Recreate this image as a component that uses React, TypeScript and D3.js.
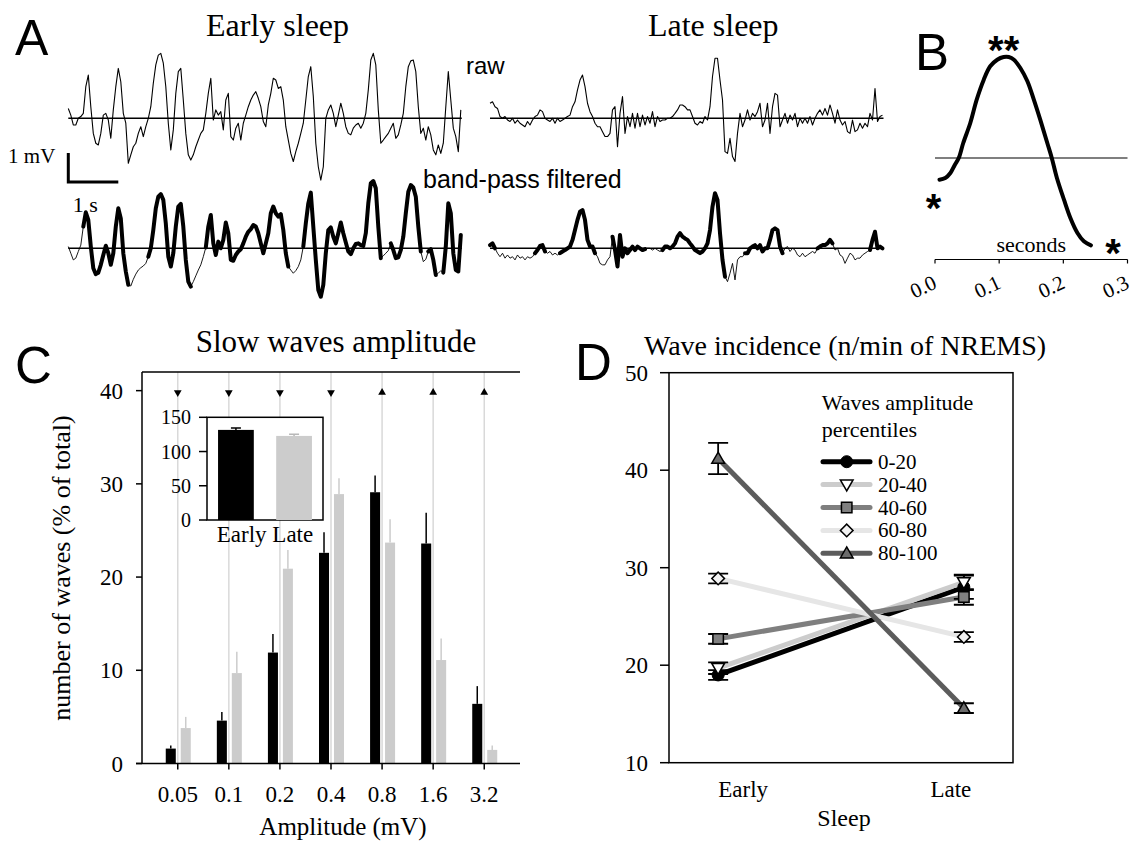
import React from 'react'
import * as d3 from 'd3'

const SERIF = '"Liberation Serif", "Times New Roman", serif'
const SANS = '"Liberation Sans", Arial, sans-serif'

// ---- Panel A: example EEG traces, one sample every 50 ms, values in mV
const SAMPLE_S = 0.05

const earlyRaw = [
  0.34, 0.11, -0.23, -0.23, 0.0, 0.06, 0.17, 1.09, 1.49, 0.4,
  -0.52, -0.86, -0.92, -0.52, 0.11, 0.17, -0.06, -0.69, 0.29, 1.09,
  1.72, 1.26, 0.17, -0.17, -1.55, -1.26, -0.98, -0.86, -0.52, -0.29,
  -0.63, -0.29, 0.0, 0.4, 1.21, 1.84, 2.18, 2.24, 1.9, 1.09,
  -0.17, -1.09, -0.4, 0.86, 1.61, 1.72, 0.63, -0.52, -1.26, -1.44,
  -1.26, -0.98, -0.75, -0.52, -0.4, 0.17, 0.86, 1.38, -0.06, 0.29,
  0.11, 0.23, -0.4, 0.63, 0.86, -0.63, -0.75, -0.34, -0.17, -0.75,
  -0.17, 0.11, 0.4, 0.63, 0.8, 0.92, 0.69, 0.4, -0.11, -0.29,
  0.46, 0.86, 1.38, 1.32, 1.03, 1.09, 0.63, -0.29, -0.75, -1.21,
  -1.49, -1.15, -0.86, -0.52, -0.17, 0.63, 1.44, 1.78, 0.75, -0.86,
  -1.67, -2.13, -1.67, 0.0, 0.29, 0.46, 0.17, -0.29, 0.11, 0.52,
  0.17, -0.29, -0.52, -0.57, -0.34, -0.23, -0.17, -0.34, -0.17, 0.17,
  0.98, 2.01, 2.24, 1.84, 0.29, -0.86, -0.75, -0.63, -0.52, -0.34,
  -0.17, -0.69, -0.57, -0.23, 0.17, 1.09, 1.78, 1.98, 2.01, 1.61,
  0.4, -0.52, -0.34, -0.75, -0.29, -0.57, -1.09, -1.26, -0.92, -1.21,
  -0.86, 0.4, 1.61, 0.63, -0.34, -0.63, -1.15, 0.29,
]

const earlyFiltered = [
  0.06, -0.17, -0.4, -0.34, -0.11, 0.11, 0.75, 1.24, 0.98, 0.06,
  -0.69, -0.89, -0.84, -0.57, -0.23, 0.09, -0.17, -0.57, -0.17, 0.75,
  1.38, 1.03, -0.17, -0.8, -1.26, -1.3, -1.07, -0.89, -0.75, -0.67,
  -0.61, -0.52, -0.29, 0.0, 0.63, 1.38, 1.78, 1.87, 1.67, 0.86,
  -0.29, -0.63, -0.17, 0.75, 1.44, 1.53, 0.75, -0.4, -1.15, -1.32,
  -1.15, -0.95, -0.75, -0.57, -0.29, 0.03, 0.75, 1.15, 0.17, -0.23,
  0.23, 0.0, 0.29, 0.89, 0.52, -0.4, -0.43, -0.23, -0.11, -0.03,
  0.17, 0.4, 0.57, 0.66, 0.8, 0.75, 0.52, 0.17, -0.17, 0.17,
  0.52, 1.21, 1.44, 1.21, 1.09, 1.18, 0.63, -0.17, -0.63, -0.75,
  -0.86, -0.77, -0.63, -0.4, 0.06, 0.86, 1.55, 1.92, 0.75, -0.4,
  -1.44, -1.67, -1.26, -0.17, 0.63, 0.72, 0.4, 0.17, 0.52, 0.89,
  0.52, 0.2, -0.11, -0.2, 0.0, 0.15, 0.17, 0.11, 0.08, 0.52,
  1.55, 2.24, 2.32, 2.07, 0.75, -0.34, -0.26, -0.17, -0.08, 0.17,
  -0.06, -0.34, -0.31, -0.06, 0.4, 1.21, 1.95, 2.18, 2.1, 1.78,
  0.75, -0.11, -0.46, -0.38, -0.11, -0.03, -0.4, -0.92, -0.86, -0.77,
  -0.84, 0.06, 1.55, 1.21, -0.17, -0.75, -0.8, 0.46,
]

const lateRaw = [
  0.52, 0.57, 0.4, 0.34, 0.06, 0.0, 0.06, -0.06, -0.11, 0.0,
  -0.17, -0.06, -0.17, -0.23, -0.29, -0.11, -0.23, -0.06, 0.06, 0.11,
  0.29, 0.23, 0.0, -0.06, -0.11, 0.0, -0.17, 0.0, -0.11, -0.06,
  0.0, 0.06, 0.11, 0.4, 0.57, 0.98, 1.32, 1.49, 1.09, 0.52,
  0.23, 0.06, -0.17, -0.29, -0.29, -0.46, -0.63, -0.63, -0.52, 0.29,
  0.4, -0.98, 0.17, 0.75, -0.52, 0.06, -0.29, 0.17, -0.34, 0.17,
  -0.29, 0.11, -0.23, 0.06, -0.17, 0.23, -0.29, 0.06, -0.11, -0.06,
  -0.06, 0.0, 0.0, 0.06, 0.17, 0.29, 0.46, 0.46, 0.4, 0.29,
  0.29, 0.06, -0.17, -0.23, -0.11, -0.17, 0.06, -0.06, 0.4, 1.44,
  2.07, 2.07, 1.32, 0.63, -1.15, -1.21, -0.69, -1.32, -1.49, -0.52,
  0.17, -0.29, -0.06, 0.29, -0.06, 0.17, 0.06, 0.23, 0.52, -0.29,
  -0.06, 0.52, -0.52, 0.4, 0.86, 0.8, -0.29, -0.06, 0.17, -0.17,
  0.11, -0.06, 0.17, -0.29, 0.0, -0.17, 0.0, -0.17, 0.06, -0.23,
  0.0, 0.17, 0.29, 0.11, 0.34, 0.11, 0.46, 0.17, -0.17, 0.29,
  -0.06, -0.23, -0.11, -0.46, -0.52, -0.06, -0.46, -0.4, -0.17, -0.34,
  -0.17, -0.29, 0.17, -0.06, 1.03, -0.11, 0.06, 0.11,
]

const lateFiltered = [
  0.11, 0.17, 0.0, -0.17, -0.29, -0.17, -0.34, -0.23, -0.34, -0.29,
  -0.4, -0.23, -0.34, -0.29, -0.4, -0.29, -0.34, -0.29, -0.17, -0.06,
  0.08, 0.11, -0.11, -0.17, -0.11, -0.23, -0.17, -0.23, -0.17, -0.11,
  -0.06, 0.0, 0.06, 0.29, 0.63, 0.98, 1.26, 1.32, 0.98, 0.29,
  0.06, 0.06, -0.17, -0.29, -0.52, -0.57, -0.57, -0.4, -0.29, 0.4,
  -0.06, -0.63, 0.46, -0.29, 0.0, -0.17, -0.06, 0.06, -0.06, 0.06,
  0.0, -0.06, -0.03, 0.0, 0.0, -0.06, 0.0, -0.06, -0.11, -0.06,
  0.06, 0.06, 0.0, 0.06, 0.17, 0.4, 0.52, 0.4, 0.34, 0.29,
  0.17, 0.06, -0.06, -0.11, -0.17, -0.11, 0.0, 0.17, 0.63, 1.44,
  1.9, 1.67, 0.52, -0.4, -0.98, -1.15, -0.86, -0.52, -1.09, -0.4,
  -0.29, -0.29, -0.17, -0.17, 0.0, 0.06, 0.11, 0.0, 0.11, -0.11,
  0.0, 0.0, 0.29, 0.63, 0.69, 0.63, 0.06, -0.17, 0.0, 0.06,
  -0.11, 0.0, -0.06, -0.23, -0.29, -0.17, -0.29, -0.23, -0.17, -0.11,
  -0.17, 0.0, 0.06, 0.11, 0.11, 0.17, 0.29, 0.17, -0.06, 0.0,
  -0.23, -0.29, -0.52, -0.34, -0.17, -0.23, -0.4, -0.34, -0.34, -0.23,
  -0.17, -0.11, -0.06, 0.29, 0.57, 0.0, 0.06, 0.0,
]

// stretches (s) where the filtered signal is drawn thick (detected waves)
const earlyThick: [number, number][] = [
  [0.27, 1.23], [1.57, 2.49], [2.71, 4.42], [4.67, 6.29], [6.42, 7.07], [7.17, 7.38], [7.47, 7.9],
]
const lateThick: [number, number][] = [
  [0, 0.13], [0.87, 1.1], [1.4, 2.13], [2.43, 3.13], [3.43, 4.7], [5.07, 5.87], [6.53, 6.87], [7.6, 7.9],
]

// ---- Panel B: average slow wave
const waveTime = [
  0.007, 0.016, 0.024, 0.031, 0.037, 0.044, 0.055, 0.065, 0.076, 0.086, 0.097, 0.107, 0.115,
  0.123, 0.133, 0.144, 0.154, 0.164, 0.175, 0.182, 0.19, 0.201, 0.211, 0.222, 0.232, 0.243,
]
const waveAmp = [
  -21.7, -20, -15, -6.7, 0, 15, 35, 58.3, 78.3, 91.7, 98.3, 101, 101,
  98.3, 90, 76.7, 58.3, 38.3, 15, 0, -20, -41.7, -60, -75, -83.3, -87.3,
]
const waveTicks = [0, 0.1, 0.2, 0.3]

// ---- Panel C: amplitude distribution
const ampCats = ['0.05', '0.1', '0.2', '0.4', '0.8', '1.6', '3.2']
const earlyPct = [1.6, 4.6, 11.9, 22.6, 29.1, 23.6, 6.4]
const earlyPctErr = [0.33, 0.93, 2.0, 2.2, 1.8, 3.3, 1.9]
const latePct = [3.8, 9.7, 20.9, 28.9, 23.7, 11.1, 1.46]
const latePctErr = [1.2, 2.3, 2.0, 1.7, 2.5, 2.3, 0.47]
const changeDir = ['down', 'down', 'down', 'down', 'up', 'up', 'up']
const changeLevel = 39.8
const pctTicks = [0, 10, 20, 30, 40]

const insetCats = ['Early', 'Late']
const insetVals = [131.6, 122.8]
const insetErr = [2.9, 2.5]
const insetTicks = [0, 50, 100, 150]

// ---- Panel D: wave incidence
const sleepCats = ['Early', 'Late']
const pctiles = ['0-20', '20-40', '40-60', '60-80', '80-100']
const incEarly = [19.0, 19.7, 22.7, 28.9, 41.2]
const incLate = [28.0, 28.5, 27.0, 22.9, 15.6]
const incEarlyErr = [0.5, 0.6, 0.5, 0.5, 1.6]
const incLateErr = [1.2, 0.8, 0.8, 0.5, 0.5]
const incTicks = [10, 20, 30, 40, 50]

const lineColors = ['#000000', '#cccccc', '#7f7f7f', '#e6e6e6', '#5c5c5c']
const markerFill = ['#000000', '#ffffff', '#808080', '#f2f2f2', '#6b6b6b']

type Pt = { t: number; v: number }

function PanelA() {
  const tEnd = (earlyRaw.length - 1) * SAMPLE_S
  const xEarly = d3.scaleLinear().domain([0, tEnd]).range([68.3, 460.8])
  const xLate = d3.scaleLinear().domain([0, tEnd]).range([490, 882.5])
  const yRaw = d3.scaleLinear().domain([-1, 1]).range([147.3, 89.3])
  const yFilt = d3.scaleLinear().domain([-1, 1]).range([277.3, 219.3])

  const toPts = (vals: number[]): Pt[] => vals.map((v, i) => ({ t: i * SAMPLE_S, v }))

  const trace = (
    vals: number[],
    x: d3.ScaleLinear<number, number>,
    y: d3.ScaleLinear<number, number>,
    thick: [number, number][] | null,
    key: string
  ) => {
    const pts = toPts(vals)
    const line = d3.line<Pt>().x(d => x(d.t)).y(d => y(d.v))
    return (
      <g key={key}>
        <line x1={x(0)} x2={x(tEnd) + 1} y1={y(0)} y2={y(0)} stroke="#000" strokeWidth={1.4} />
        <path d={line(pts) || ''} fill="none" stroke="#000" strokeWidth={thick ? 0.9 : 1.1} strokeLinejoin="round" />
        {thick && thick.map(([a, b], k) => (
          <path
            key={k}
            d={line(pts.filter(p => p.t >= a - 1e-6 && p.t <= b + 1e-6)) || ''}
            fill="none"
            stroke="#000"
            strokeWidth={4}
            strokeLinejoin="round"
            strokeLinecap="round"
          />
        ))}
      </g>
    )
  }

  // scale bar: 1 mV by 1 s
  const barBottom = -2.2
  return (
    <g>
      <text x={15} y={55} fontFamily={SANS} fontSize={50}>A</text>
      <text x={(xEarly(0) + xEarly(tEnd)) / 2 + 13} y={36} fontSize={32} textAnchor="middle">Early sleep</text>
      <text x={(xLate(0) + xLate(tEnd)) / 2 + 27} y={36} fontSize={32} textAnchor="middle">Late sleep</text>
      <text x={466} y={74} fontFamily={SANS} fontSize={24}>raw</text>
      <text x={423} y={188} fontFamily={SANS} fontSize={25}>band-pass filtered</text>

      {trace(earlyRaw, xEarly, yRaw, null, 'er')}
      {trace(lateRaw, xLate, yRaw, null, 'lr')}
      {trace(earlyFiltered, xEarly, yFilt, earlyThick, 'ef')}
      {trace(lateFiltered, xLate, yFilt, lateThick, 'lf')}

      <path
        d={`M${xEarly(0)},${yRaw(barBottom + 1)}V${yRaw(barBottom)}H${xEarly(1)}`}
        fill="none"
        stroke="#000"
        strokeWidth={3}
      />
      <text x={xEarly(0) - 13} y={163} fontSize={21} textAnchor="end">1 mV</text>
      <text x={xEarly(0) + 4.5} y={211.5} fontSize={22}>1 s</text>
    </g>
  )
}

function PanelB() {
  const x = d3.scaleLinear().domain([0, 0.3]).range([935, 1127.5])
  const y = d3.scaleLinear().domain([-100, 100]).range([258, 58])
  const pts = waveTime.map((t, i) => ({ t, v: waveAmp[i] }))
  const line = d3.line<Pt>().x(d => x(d.t)).y(d => y(d.v)).curve(d3.curveCatmullRom)
  const axisY = 259.5
  const first = pts[0]
  const last = pts[pts.length - 1]
  const peak = pts[d3.maxIndex(pts, d => d.v)]
  return (
    <g>
      <text x={915} y={70} fontFamily={SANS} fontSize={51}>B</text>
      <line x1={x(0)} x2={x(0.3)} y1={y(0)} y2={y(0)} stroke="#000" strokeWidth={1.2} />
      <path d={line(pts) || ''} fill="none" stroke="#000" strokeWidth={4} strokeLinecap="round" />
      <line x1={x(0)} x2={x(0.3)} y1={axisY} y2={axisY} stroke="#000" strokeWidth={1.2} />
      {waveTicks.map(t => (
        <g key={t}>
          <line x1={x(t)} x2={x(t)} y1={axisY} y2={axisY + 4} stroke="#000" strokeWidth={1.2} />
          <text
            transform={`translate(${x(t) - 12},${axisY + 27}) rotate(-25)`}
            fontSize={21}
            textAnchor="middle"
            dy="0.35em"
          >
            {d3.format('.1f')(t)}
          </text>
        </g>
      ))}
      <text x={x(0.15)} y={252} fontSize={22} textAnchor="middle">seconds</text>
      <text x={x(first.t) - 6} y={y(first.v) + 42} fontFamily={SANS} fontSize={40} fontWeight="bold" textAnchor="middle">*</text>
      <text x={x(peak.t)} y={y(peak.v) + 7} fontFamily={SANS} fontSize={40} fontWeight="bold" textAnchor="middle">**</text>
      <text x={x(last.t) + 22} y={y(last.v) + 22} fontFamily={SANS} fontSize={40} fontWeight="bold" textAnchor="middle">*</text>
    </g>
  )
}

function PanelC() {
  const x = d3.scalePoint<string>().domain(ampCats).range([142, 520]).padding(0.7)
  const inner = d3.scaleBand<string>().domain(['early', 'late']).range([-12, 13]).paddingInner(0.33)
  const y = d3.scaleLinear().domain([0, 42]).range([763.5, 372])
  const bw = inner.bandwidth()
  const tri = d3.symbol().type(d3.symbolTriangle).size(26)

  const xi = d3.scaleBand<string>().domain(insetCats).range([207, 323]).paddingInner(0.385).paddingOuter(0.19)
  const yi = d3.scaleLinear().domain([0, 150]).range([520, 417.3])
  const insetColors = ['#000', '#cccccc']
  const insetErrColors = ['#000', '#b8b8b8']

  return (
    <g>
      <text x={15} y={383} fontFamily={SANS} fontSize={51}>C</text>
      <text x={336} y={352} fontSize={31} textAnchor="middle">Slow waves amplitude</text>

      {/* grid */}
      {ampCats.map(c => (
        <line key={c} x1={x(c)} x2={x(c)} y1={y(42)} y2={y(0)} stroke="#d9d9d9" strokeWidth={1.5} />
      ))}

      {/* bars */}
      {ampCats.map((c, i) => {
        const cx = x(c)!
        const xe = cx + inner('early')!
        const xl = cx + inner('late')!
        return (
          <g key={c}>
            <line x1={xe + bw / 2} x2={xe + bw / 2} y1={y(earlyPct[i])} y2={y(earlyPct[i] + earlyPctErr[i])} stroke="#000" strokeWidth={1.5} />
            <rect x={xe} y={y(earlyPct[i])} width={bw} height={y(0) - y(earlyPct[i])} fill="#000" />
            <line x1={xl + bw / 2} x2={xl + bw / 2} y1={y(latePct[i])} y2={y(latePct[i] + latePctErr[i])} stroke="#cccccc" strokeWidth={1.5} />
            <rect x={xl} y={y(latePct[i])} width={bw} height={y(0) - y(latePct[i])} fill="#cccccc" />
            <path
              d={tri() || ''}
              transform={`translate(${cx},${y(changeLevel)}) rotate(${changeDir[i] === 'down' ? 180 : 0})`}
              fill="#000"
            />
          </g>
        )
      })}

      {/* axes */}
      <line x1={142} x2={520} y1={y(42)} y2={y(42)} stroke="#000" strokeWidth={1.5} />
      <line x1={142} x2={142} y1={y(42)} y2={y(0)} stroke="#000" strokeWidth={1.5} />
      <line x1={136} x2={520} y1={y(0)} y2={y(0)} stroke="#000" strokeWidth={1.5} />
      {pctTicks.map(t => (
        <g key={t}>
          <line x1={136} x2={142} y1={y(t)} y2={y(t)} stroke="#000" strokeWidth={1.5} />
          <text x={123} y={y(t) + 8} fontSize={23} textAnchor="end">{t}</text>
        </g>
      ))}
      {ampCats.map(c => (
        <g key={c}>
          <line x1={x(c)} x2={x(c)} y1={y(0)} y2={y(0) + 6} stroke="#000" strokeWidth={1.5} />
          <text x={x(c)} y={802} fontSize={23} textAnchor="middle">{c}</text>
        </g>
      ))}
      <text x={343} y={835} fontSize={25} textAnchor="middle">Amplitude (mV)</text>
      <text transform="translate(70,568) rotate(-90)" fontSize={26} textAnchor="middle">number of waves (% of total)</text>

      {/* inset */}
      <rect x={207} y={yi(150)} width={116} height={yi(0) - yi(150)} fill="#fff" stroke="#000" strokeWidth={1.5} />
      {insetCats.map((c, i) => {
        const bx = xi(c)!
        const w = xi.bandwidth()
        const cx = bx + w / 2
        return (
          <g key={c}>
            <rect x={bx} y={yi(insetVals[i])} width={w} height={yi(0) - yi(insetVals[i])} fill={insetColors[i]} />
            <path
              d={`M${cx},${yi(insetVals[i])}V${yi(insetVals[i] + insetErr[i])}M${cx - 5},${yi(insetVals[i] + insetErr[i])}H${cx + 5}`}
              stroke={insetErrColors[i]}
              strokeWidth={1.5}
            />
          </g>
        )
      })}
      {insetTicks.map(t => (
        <g key={t}>
          <line x1={199} x2={207} y1={yi(t)} y2={yi(t)} stroke="#000" strokeWidth={1.5} />
          <text x={191} y={yi(t) + 7} fontSize={20} textAnchor="end">{t}</text>
        </g>
      ))}
      <text
        x={(xi('Early')! + xi('Late')! + xi.bandwidth()) / 2}
        y={541.5}
        fontSize={23}
        textAnchor="middle"
      >
        {insetCats.join(' ')}
      </text>
    </g>
  )
}

function Marker({ i, cx, cy }: { i: number; cx: number; cy: number }) {
  const stroke = '#000'
  if (i === 0) return <circle cx={cx} cy={cy} r={6} fill={markerFill[i]} stroke={stroke} strokeWidth={1} />
  if (i === 1 || i === 4) {
    const d = d3.symbol().type(d3.symbolTriangle).size(70)() || ''
    return (
      <path
        d={d}
        transform={`translate(${cx},${cy + (i === 1 ? -1 : 1)}) rotate(${i === 1 ? 180 : 0})`}
        fill={markerFill[i]}
        stroke={stroke}
        strokeWidth={1.5}
      />
    )
  }
  if (i === 2) {
    const d = d3.symbol().type(d3.symbolSquare).size(110)() || ''
    return <path d={d} transform={`translate(${cx},${cy})`} fill={markerFill[i]} stroke={stroke} strokeWidth={1.5} />
  }
  const d = d3.symbol().type(d3.symbolSquare).size(80)() || ''
  return <path d={d} transform={`translate(${cx},${cy}) rotate(45)`} fill={markerFill[i]} stroke={stroke} strokeWidth={1.5} />
}

function PanelD() {
  const x = d3.scalePoint<string>().domain(sleepCats).range([669, 1013]).padding(0.2)
  const y = d3.scaleLinear().domain([10, 50]).range([762.7, 372.7])
  const legendY = d3.scalePoint<string>().domain(pctiles).range([461.7, 553.3])
  const vals = pctiles.map((_, i) => [incEarly[i], incLate[i]])
  const errs = pctiles.map((_, i) => [incEarlyErr[i], incLateErr[i]])
  const line = d3.line<number>().x((_, j) => x(sleepCats[j])!).y(v => y(v))
  const labelShift = [25, -13]

  return (
    <g>
      <text x={575} y={380} fontFamily={SANS} fontSize={51}>D</text>
      <text x={845} y={355} fontSize={28} textAnchor="middle">Wave incidence (n/min of NREMS)</text>

      <rect x={669} y={y(50)} width={1013 - 669} height={y(10) - y(50)} fill="none" stroke="#000" strokeWidth={1.5} />
      {incTicks.map(t => (
        <g key={t}>
          <line x1={660} x2={669} y1={y(t)} y2={y(t)} stroke="#000" strokeWidth={1.5} />
          <text x={648} y={y(t) + 8} fontSize={23} textAnchor="end">{t}</text>
        </g>
      ))}
      {sleepCats.map((c, j) => (
        <text key={c} x={x(c)! + labelShift[j]} y={797} fontSize={23} textAnchor="middle">{c}</text>
      ))}
      <text x={844} y={826} fontSize={24} textAnchor="middle">Sleep</text>

      {/* legend */}
      <text x={821.7} y={410} fontSize={22}>Waves amplitude</text>
      <text x={821.7} y={437} fontSize={22}>percentiles</text>
      {pctiles.map((p, i) => {
        const ly = legendY(p)!
        return (
          <g key={p}>
            <line x1={823} x2={870} y1={ly} y2={ly} stroke={lineColors[i]} strokeWidth={5} strokeLinecap="round" />
            <Marker i={i} cx={846.7} cy={ly} />
            <text x={878} y={ly + 7} fontSize={21}>{p}</text>
          </g>
        )
      })}

      {/* series */}
      {vals.map((v, i) => (
        <path key={i} d={line(v) || ''} fill="none" stroke={lineColors[i]} strokeWidth={5} />
      ))}
      {vals.map((v, i) =>
        v.map((val, j) => {
          const cx = x(sleepCats[j])!
          const lo = y(val - errs[i][j])
          const hi = y(val + errs[i][j])
          return (
            <path
              key={`${i}-${j}`}
              d={`M${cx},${lo}V${hi}M${cx - 10},${lo}H${cx + 10}M${cx - 10},${hi}H${cx + 10}`}
              stroke="#000"
              strokeWidth={1.8}
              fill="none"
            />
          )
        })
      )}
      {vals.map((v, i) =>
        v.map((val, j) => <Marker key={`m${i}-${j}`} i={i} cx={x(sleepCats[j])!} cy={y(val)} />)
      )}
    </g>
  )
}

export default function App() {
  return (
    <svg
      width={1132}
      height={841}
      style={{ position: 'absolute', left: 0, top: 0, background: '#fff' }}
      fontFamily={SERIF}
    >
      <rect width={1132} height={841} fill="#fff" />
      <PanelA />
      <PanelB />
      <PanelC />
      <PanelD />
    </svg>
  )
}
